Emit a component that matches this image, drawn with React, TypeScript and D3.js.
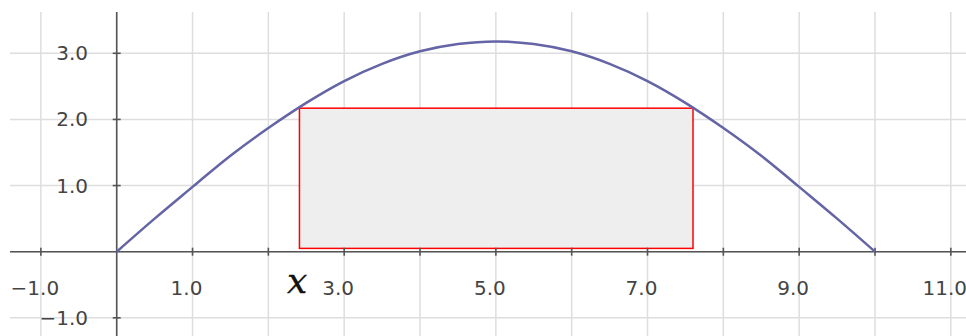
import React, { useRef, useEffect } from "react";
import * as d3 from "d3";

// curve samples
const curveX = [0, 0.5, 1, 1.5, 2, 2.5, 3, 3.5, 4, 4.5, 5, 5.5, 6, 6.5, 7, 7.5, 8, 8.5, 9, 9.5, 10];
const curveY = [0, 0.5, 0.98, 1.45, 1.87, 2.25, 2.58, 2.84, 3.03, 3.14, 3.18, 3.14, 3.03, 2.84, 2.58, 2.25, 1.87, 1.45, 0.98, 0.5, 0];

// shaded rectangle under the curve
const rectLeft = 2.41;
const rectRight = 7.6;
const rectTop = 2.17;
const rectBottom = 0.05;

const xGrid = [-1, 0, 1, 2, 3, 4, 5, 6, 7, 8, 9, 10, 11];
const xTicks = [-1, 1, 2, 3, 4, 5, 6, 7, 8, 9, 10, 11];
const xLabels = [-1, 1, 3, 5, 7, 9, 11];
const yGrid = [-1, 0, 1, 2, 3];
const yTicks = [-1, 1, 2, 3];
const yLabels = [-1, 1, 2, 3];

const W = 966;
const H = 336;

const fmt = (v: number) => d3.format(".1f")(v).replace("-", "\u2212");

const Chart = () => {
  const svgRef = useRef<SVGSVGElement>(null);

  useEffect(() => {
    const svg = d3.select(svgRef.current);
    svg.selectAll("*").remove();

    const x = d3.scaleLinear().domain([0, 10]).range([116.7, 875]);
    const y = d3.scaleLinear().domain([0, 3]).range([251.7, 53.3]);
    const top = 12;
    const left = 10;

    // grid
    svg.append("g")
      .selectAll("line")
      .data(xGrid)
      .enter()
      .append("line")
      .attr("x1", (d) => x(d)).attr("x2", (d) => x(d))
      .attr("y1", top).attr("y2", H)
      .attr("stroke", "#dedede").attr("stroke-width", 1.5);

    svg.append("g")
      .selectAll("line")
      .data(yGrid)
      .enter()
      .append("line")
      .attr("x1", left).attr("x2", W)
      .attr("y1", (d) => y(d)).attr("y2", (d) => y(d))
      .attr("stroke", "#dedede").attr("stroke-width", 1.5);

    // rectangle
    svg.append("rect")
      .attr("x", x(rectLeft))
      .attr("y", y(rectTop))
      .attr("width", x(rectRight) - x(rectLeft))
      .attr("height", y(rectBottom) - y(rectTop))
      .attr("fill", "#eeeeee")
      .attr("stroke", "#ff0000")
      .attr("stroke-width", 1.5);

    // axes
    svg.append("line")
      .attr("x1", left).attr("x2", W)
      .attr("y1", y(0)).attr("y2", y(0))
      .attr("stroke", "#555").attr("stroke-width", 1.6);
    svg.append("line")
      .attr("x1", x(0)).attr("x2", x(0))
      .attr("y1", top).attr("y2", H)
      .attr("stroke", "#555").attr("stroke-width", 1.6);

    svg.append("g")
      .selectAll("line")
      .data(xTicks)
      .enter()
      .append("line")
      .attr("x1", (d) => x(d)).attr("x2", (d) => x(d))
      .attr("y1", y(0) - 4).attr("y2", y(0) + 4)
      .attr("stroke", "#555").attr("stroke-width", 1.6);

    svg.append("g")
      .selectAll("line")
      .data(yTicks)
      .enter()
      .append("line")
      .attr("x1", x(0) - 4).attr("x2", x(0) + 4)
      .attr("y1", (d) => y(d)).attr("y2", (d) => y(d))
      .attr("stroke", "#555").attr("stroke-width", 1.6);

    // labels
    svg.append("g")
      .selectAll("text")
      .data(xLabels)
      .enter()
      .append("text")
      .attr("x", (d) => x(d) - 6)
      .attr("y", 288)
      .attr("dy", "0.35em")
      .attr("text-anchor", "middle")
      .attr("font-family", "DejaVu Sans")
      .attr("font-size", 20)
      .attr("fill", "#444")
      .text((d) => fmt(d));

    svg.append("g")
      .selectAll("text")
      .data(yLabels)
      .enter()
      .append("text")
      .attr("x", 88)
      .attr("y", (d) => y(d))
      .attr("dy", "0.35em")
      .attr("text-anchor", "end")
      .attr("font-family", "DejaVu Sans")
      .attr("font-size", 20)
      .attr("fill", "#444")
      .text((d) => fmt(d));

    // curve
    const line = d3.line<number>()
      .x((d, i) => x(curveX[i]))
      .y((d) => y(d))
      .curve(d3.curveNatural);

    svg.append("path")
      .datum(curveY)
      .attr("d", line)
      .attr("fill", "none")
      .attr("stroke", "#6464a6")
      .attr("stroke-width", 2.5);

    svg.append("text")
      .attr("x", 287)
      .attr("y", 293)
      .attr("font-family", "DejaVu Serif")
      .attr("font-style", "italic")
      .attr("font-size", 36)
      .attr("fill", "#111")
      .attr("stroke", "#111")
      .attr("stroke-width", 0.3)
      .text("x");

    return () => {};
  }, []);

  return <svg ref={svgRef} width={W} height={H} style={{ position: "absolute", left: 0, top: 0, background: "#fff" }} />;
};

export default function App() {
  return <Chart />;
}
